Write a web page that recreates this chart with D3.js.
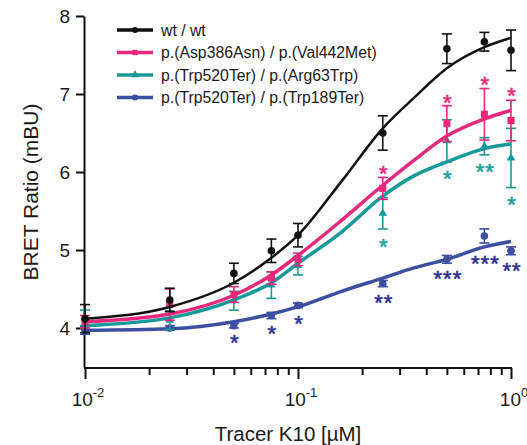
<!DOCTYPE html>
<html lang="en">
<head>
    <meta charset="UTF-8">
    <script src="https://d3js.org/d3.v7.min.js"></script>
    <title>BRET tracer titration</title>
    <style>
        body { margin: 0; background: #fff; }
        svg text { font-family: "Liberation Sans", Arial, sans-serif; fill: #1a1a1a; }
    </style>
</head>
<body>
<svg class="chart"></svg>

<script>
    // tracer concentrations (uM)
    let doses = [0.01, 0.025, 0.05, 0.075, 0.1, 0.25, 0.5, 0.75, 1];

    let seriesNames = ['wt / wt', 'p.(Asp386Asn) / p.(Val442Met)', 'p.(Trp520Ter) / p.(Arg63Trp)', 'p.(Trp520Ter) / p.(Trp189Ter)'];

    // means and error bars (mBU)
    let wtMean = [4.12, 4.36, 4.70, 4.99, 5.19, 6.50, 7.58, 7.67, 7.56];
    let wtErr = [0.18, 0.15, 0.13, 0.15, 0.15, 0.22, 0.19, 0.12, 0.26];
    let aspMean = [4.08, 4.30, 4.43, 4.64, 4.88, 5.79, 6.62, 6.74, 6.66];
    let aspErr = [0.08, 0.20, 0.10, 0.08, 0.08, 0.14, 0.23, 0.33, 0.26];
    let argMean = [4.13, 4.10, 4.35, 4.55, 4.80, 5.47, 6.40, 6.33, 6.18];
    let argErr = [0.10, 0.12, 0.12, 0.17, 0.12, 0.20, 0.27, 0.11, 0.38];
    let trpMean = [3.97, 4.00, 4.03, 4.16, 4.29, 4.57, 4.88, 5.18, 4.99];
    let trpErr = [0.05, 0.03, 0.03, 0.04, 0.03, 0.04, 0.05, 0.09, 0.05];

    // fitted curves at these concentrations
    let fitDoses = [0.01, 0.025, 0.05, 0.075, 0.1, 0.16, 0.25, 0.35, 0.5, 0.75, 1];
    let wtFit = [4.12, 4.27, 4.58, 4.90, 5.19, 5.88, 6.56, 6.95, 7.33, 7.60, 7.72];
    let aspFit = [4.08, 4.18, 4.42, 4.68, 4.93, 5.38, 5.83, 6.15, 6.46, 6.68, 6.79];
    let argFit = [4.03, 4.13, 4.36, 4.58, 4.83, 5.23, 5.69, 5.95, 6.13, 6.30, 6.36];
    let trpFit = [3.97, 3.99, 4.08, 4.18, 4.27, 4.47, 4.64, 4.77, 4.88, 5.04, 5.11];

    // significance stars: dose, label, height (mBU)
    let aspStarDose = [0.25, 0.5, 0.75, 1];
    let aspStarText = ['*', '*', '*', '*'];
    let aspStarY = [6.05, 6.96, 7.19, 7.05];
    let argStarDose = [0.25, 0.5, 0.75, 1];
    let argStarText = ['*', '*', '**', '*'];
    let argStarY = [5.12, 5.99, 6.08, 5.65];
    let trpStarDose = [0.05, 0.075, 0.1, 0.25, 0.5, 0.75, 1];
    let trpStarText = ['*', '*', '*', '**', '***', '***', '**'];
    let trpStarY = [3.89, 4.00, 4.13, 4.40, 4.71, 4.90, 4.81];

    let yTicks = [4, 5, 6, 7, 8];
    let xMajor = [0.01, 0.1, 1];
    let xMajorExp = ['-2', '-1', '0'];
    let xMinor = [0.02, 0.03, 0.04, 0.05, 0.06, 0.07, 0.08, 0.09, 0.2, 0.3, 0.4, 0.5, 0.6, 0.7, 0.8, 0.9];

    let chart_width = 527;
    let chart_height = 445;

    let x_range = d3.scaleLog().domain([0.01, 1]).range([85, 511]);
    let y_range = d3.scaleLinear().domain([3.5, 8]).range([367, 16]);

    let svg = d3.select('.chart').attr('width', chart_width).attr('height', chart_height);

    // axes
    let yAxis = svg.append('g').attr('transform', 'translate(84,0)')
        .call(d3.axisLeft(y_range).tickValues(yTicks).tickFormat(d3.format('d')).tickSize(8).tickSizeOuter(0).tickPadding(6));
    yAxis.select('.domain').attr('stroke', '#111').attr('stroke-width', 2);
    yAxis.selectAll('.tick line').attr('stroke', '#111').attr('stroke-width', 2);
    yAxis.selectAll('.tick text').style('font-size', '19px').attr('dy', '0.36em');

    let xMinorAxis = svg.append('g').attr('transform', 'translate(0,368)')
        .call(d3.axisBottom(x_range).tickValues(xMinor).tickSize(7).tickFormat(''));
    xMinorAxis.select('.domain').remove();
    xMinorAxis.selectAll('.tick line').attr('stroke', '#111').attr('stroke-width', 2);

    let xAxis = svg.append('g').attr('transform', 'translate(0,368)')
        .call(d3.axisBottom(x_range).tickValues(xMajor).tickSize(11).tickSizeOuter(0).tickFormat(''));
    xAxis.select('.domain').attr('stroke', '#111').attr('stroke-width', 2).attr('d', 'M84,0H512');
    xAxis.selectAll('.tick line').attr('stroke', '#111').attr('stroke-width', 2);

    xMajor.forEach(function (v, i) {
        let t = svg.append('text')
            .attr('x', x_range(v) + 3)
            .attr('y', 406)
            .attr('text-anchor', 'middle')
            .style('font-size', '19px');
        t.append('tspan').text('10');
        t.append('tspan').attr('dy', -9).style('font-size', '13px').text(xMajorExp[i]);
    });

    svg.append('text')
        .attr('x', 288).attr('y', 441)
        .attr('text-anchor', 'middle')
        .style('font-size', '20.5px')
        .text('Tracer K10 [µM]');

    svg.append('text')
        .attr('transform', 'translate(38,192) rotate(-90)')
        .attr('text-anchor', 'middle')
        .style('font-size', '21px')
        .text('BRET Ratio (mBU)');

    let series = [
        {mean: trpMean, err: trpErr, fit: trpFit, color: '#3d4f9f', starColor: '#2e3192', marker: 'circle', width: 3.5, sDose: trpStarDose, sText: trpStarText, sY: trpStarY},
        {mean: argMean, err: argErr, fit: argFit, color: '#17999a', starColor: '#17a09c', marker: 'triangle', width: 3.5, sDose: argStarDose, sText: argStarText, sY: argStarY},
        {mean: aspMean, err: aspErr, fit: aspFit, color: '#e8287c', starColor: '#e8287c', marker: 'square', width: 3.5, sDose: aspStarDose, sText: aspStarText, sY: aspStarY},
        {mean: wtMean, err: wtErr, fit: wtFit, color: '#111111', marker: 'circle', width: 2.5}
    ];

    let symbolFor = {
        circle: d3.symbol().type(d3.symbolCircle).size(45),
        square: d3.symbol().type(d3.symbolSquare).size(50),
        triangle: d3.symbol().type(d3.symbolTriangle).size(32)
    };

    let curveLine = d3.line()
        .x(function (d) { return x_range(d[0]); })
        .y(function (d) { return y_range(d[1]); })
        .curve(d3.curveMonotoneX);

    series.forEach(function (s) {
        let g = svg.append('g');
        let pts = doses.map(function (d, i) { return {x: d, m: s.mean[i], e: s.err[i]}; });

        // error bars
        g.selectAll('line.bar').data(pts).enter().append('line')
            .attr('stroke', s.color).attr('stroke-width', 1.6)
            .attr('x1', function (d) { return x_range(d.x); })
            .attr('x2', function (d) { return x_range(d.x); })
            .attr('y1', function (d) { return y_range(d.m - d.e); })
            .attr('y2', function (d) { return y_range(d.m + d.e); });
        [-1, 1].forEach(function (sign) {
            g.selectAll(null).data(pts).enter().append('line')
                .attr('stroke', s.color).attr('stroke-width', 1.6)
                .attr('x1', function (d) { return x_range(d.x) - 5; })
                .attr('x2', function (d) { return x_range(d.x) + 5; })
                .attr('y1', function (d) { return y_range(d.m + sign * d.e); })
                .attr('y2', function (d) { return y_range(d.m + sign * d.e); });
        });

        // fitted curve
        g.append('path')
            .datum(fitDoses.map(function (d, i) { return [d, s.fit[i]]; }))
            .attr('fill', 'none')
            .attr('stroke', s.color)
            .attr('stroke-width', s.width)
            .attr('d', curveLine);

        // markers
        g.selectAll('path.pt').data(pts).enter().append('path')
            .attr('fill', s.color)
            .attr('transform', function (d) { return 'translate(' + x_range(d.x) + ',' + y_range(d.m) + ')'; })
            .attr('d', symbolFor[s.marker]);

        // stars
        if (s.sDose) {
            s.sDose.forEach(function (d, i) {
                g.append('text')
                    .attr('x', x_range(d) + 1)
                    .attr('y', y_range(s.sY[i]) + 13)
                    .attr('text-anchor', 'middle')
                    .style('font-size', '22px')
                    .style('letter-spacing', '1px')
                    .style('fill', s.starColor)
                    .style('stroke', s.starColor)
                    .style('stroke-width', 0.6)
                    .text(s.sText[i]);
            });
        }
    });

    // legend
    let legendOrder = [
        {name: seriesNames[0], color: '#111111', marker: 'circle'},
        {name: seriesNames[1], color: '#e8287c', marker: 'square'},
        {name: seriesNames[2], color: '#17999a', marker: 'triangle'},
        {name: seriesNames[3], color: '#3d4f9f', marker: 'circle'}
    ];
    let legend = svg.append('g');
    legendOrder.forEach(function (l, i) {
        let ly = 30 + i * 22.5;
        legend.append('line')
            .attr('x1', 117).attr('x2', 153).attr('y1', ly).attr('y2', ly)
            .attr('stroke', l.color).attr('stroke-width', 3.5);
        legend.append('path')
            .attr('fill', l.color)
            .attr('transform', 'translate(135,' + ly + ')')
            .attr('d', d3.symbol().type(l.marker === 'square' ? d3.symbolSquare : (l.marker === 'triangle' ? d3.symbolTriangle : d3.symbolCircle)).size(28));
        legend.append('text')
            .attr('x', 161).attr('y', ly + 5.5)
            .style('font-size', '15.8px')
            .text(l.name);
    });
</script>
</body>
</html>
